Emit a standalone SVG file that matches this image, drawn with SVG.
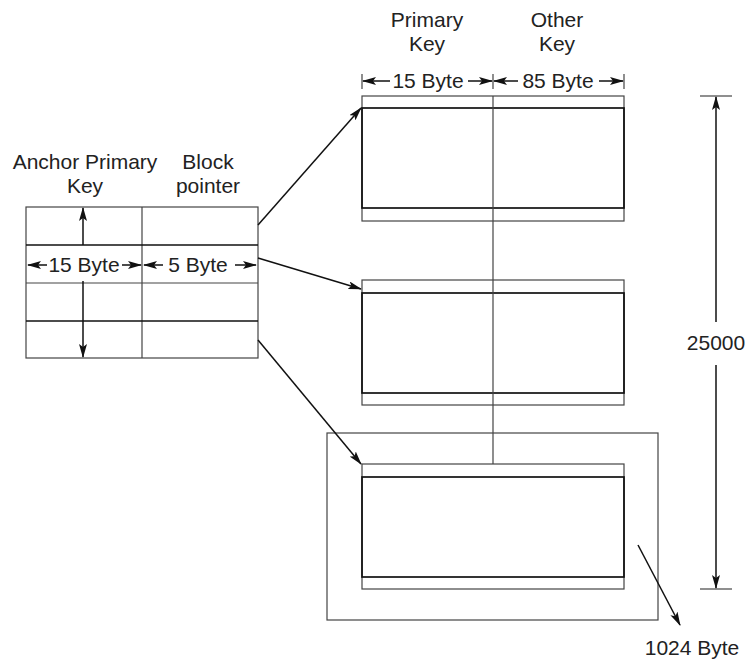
<svg xmlns="http://www.w3.org/2000/svg" width="745" height="660" viewBox="0 0 745 660">
<style>
text{font-family:"Liberation Sans",Arial,sans-serif;font-size:21px;fill:#222}
.t{text-anchor:middle}
.thin{fill:none;stroke:#444;stroke-width:1.2}
.bold{fill:none;stroke:#111;stroke-width:1.7}
.ar{fill:none;stroke:#111;stroke-width:1.5;marker-end:url(#ah)}
</style>
<defs>
<marker id="ah" markerUnits="userSpaceOnUse" markerWidth="14" markerHeight="8" refX="13" refY="4" orient="auto">
<path d="M0,0 L14,4 L0,8 L3,4 z" fill="#111"/>
</marker>
</defs>
<rect width="745" height="660" fill="#fff"/>

<g id="index-table">
<text class="t" x="85" y="169">Anchor Primary</text>
<text class="t" x="85" y="193">Key</text>
<text class="t" x="208" y="169">Block</text>
<text class="t" x="208" y="193">pointer</text>
<rect x="26" y="207" width="232" height="151" class="thin" stroke-width="1.4"/>
<line x1="142" y1="207" x2="142" y2="358" class="thin"/>
<line x1="26" y1="245" x2="258" y2="245" class="bold"/>
<line x1="26" y1="283" x2="258" y2="283" class="thin"/>
<line x1="26" y1="321" x2="258" y2="321" class="bold"/>
<line x1="83" y1="245" x2="83" y2="208" class="ar"/>
<line x1="83" y1="281" x2="83" y2="357" class="ar"/>
<line x1="47" y1="265" x2="28" y2="265" class="ar"/>
<text class="t" x="84" y="272">15 Byte</text>
<line x1="122" y1="265" x2="141" y2="265" class="ar"/>
<line x1="163" y1="265" x2="144" y2="265" class="ar"/>
<text class="t" x="198" y="272">5 Byte</text>
<line x1="235" y1="265" x2="256" y2="265" class="ar"/>
</g>

<g id="block-dims">
<text class="t" x="427" y="27">Primary</text>
<text class="t" x="427" y="51">Key</text>
<text class="t" x="557" y="27">Other</text>
<text class="t" x="557" y="51">Key</text>
<line x1="362" y1="74" x2="362" y2="89" class="thin"/>
<line x1="493" y1="74" x2="493" y2="89" class="thin"/>
<line x1="624" y1="74" x2="624" y2="89" class="thin"/>
<line x1="390" y1="81" x2="363" y2="81" class="ar"/>
<text class="t" x="428" y="88">15 Byte</text>
<line x1="468" y1="81" x2="492" y2="81" class="ar"/>
<line x1="518" y1="81" x2="494" y2="81" class="ar"/>
<text class="t" x="558" y="88">85 Byte</text>
<line x1="599" y1="81" x2="623" y2="81" class="ar"/>
</g>

<g id="block1">
<rect x="362" y="96" width="262" height="125" class="thin"/>
<rect x="362" y="108" width="262" height="100" class="bold"/>
</g>

<g id="block2">
<rect x="362" y="280" width="262" height="125" class="thin"/>
<rect x="362" y="293" width="262" height="100" class="bold"/>
</g>

<g id="block3">
<rect x="327" y="433" width="331" height="187" class="thin"/>
<rect x="362" y="464" width="262" height="125" class="thin"/>
<rect x="362" y="477" width="262" height="100" class="bold"/>
<line x1="638" y1="545" x2="680" y2="625" class="ar"/>
<text class="t" x="692" y="655">1024 Byte</text>
</g>

<g id="total-dim">
<line x1="700" y1="96" x2="732" y2="96" class="thin"/>
<line x1="700" y1="589" x2="732" y2="589" class="thin"/>
<line x1="716" y1="322" x2="716" y2="97" class="ar"/>
<line x1="716" y1="365" x2="716" y2="588" class="ar"/>
<text class="t" x="716" y="350">25000</text>
</g>

<g id="connectors">
<line x1="493" y1="96" x2="493" y2="464" class="thin"/>
<line x1="258" y1="225" x2="361" y2="108" class="ar"/>
<line x1="258" y1="258" x2="361" y2="289" class="ar"/>
<line x1="258" y1="340" x2="361" y2="464" class="ar"/>
</g>
</svg>
